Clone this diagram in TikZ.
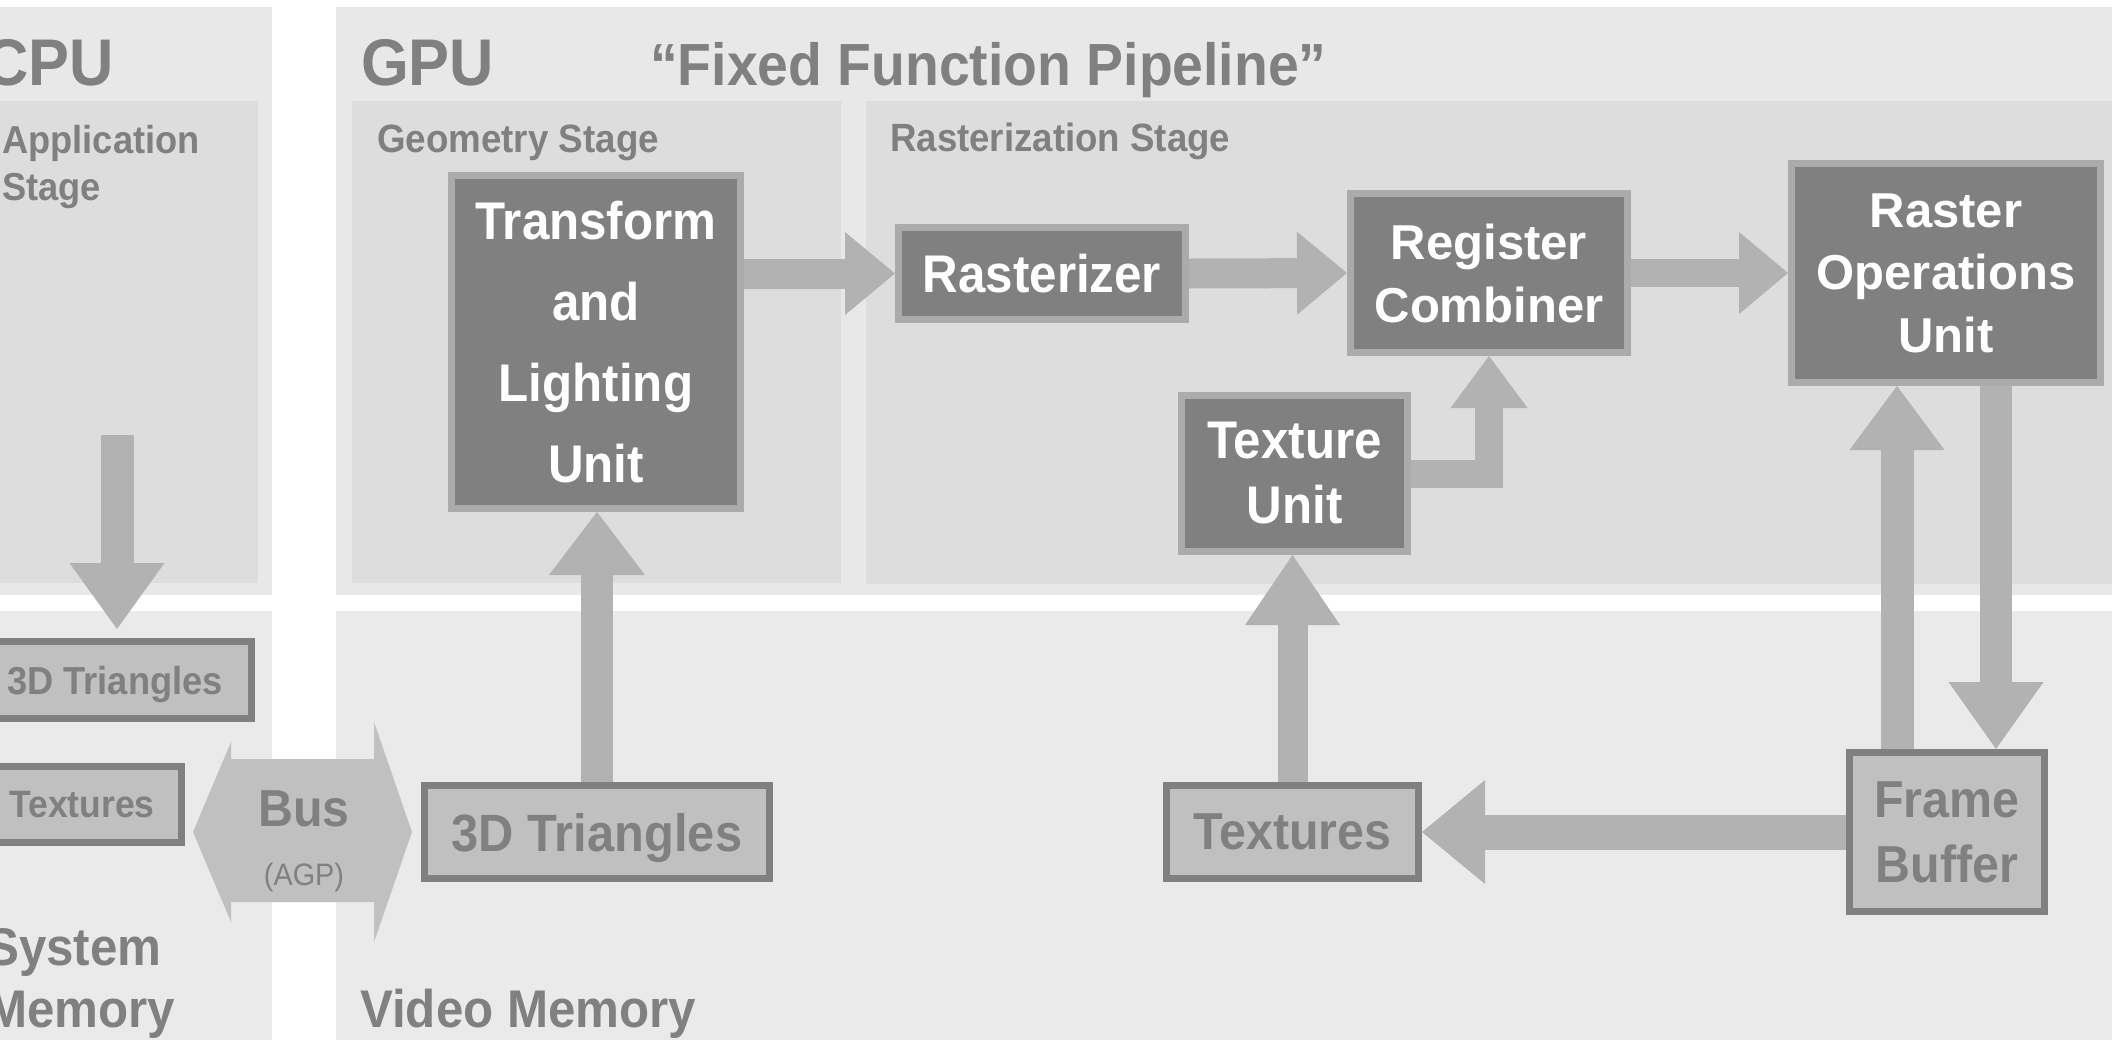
\documentclass[tikz,border=0pt]{standalone}
\usepackage{fontspec}
\setmainfont{Liberation Sans}
\newfontfamily\nf[FakeStretch=0.93]{Liberation Sans}
\usetikzlibrary{arrows.meta}
\definecolor{outerp}{HTML}{E8E8E8}
\definecolor{innerp}{HTML}{DDDDDD}
\definecolor{lowerp}{HTML}{EAEAEA}
\definecolor{darkbox}{HTML}{808080}
\definecolor{darkborder}{HTML}{ABABAB}
\definecolor{membox}{HTML}{C0C0C0}
\definecolor{arrowc}{HTML}{B2B2B2}
\definecolor{labelc}{HTML}{808080}
\begin{document}
\begin{tikzpicture}[x=1pt,y=-1pt,
  unit/.style={draw=darkborder, fill=darkbox, line width=7pt, text=white, align=center, inner sep=0pt},
  mem/.style={draw=labelc, fill=membox, line width=7pt, text=labelc, align=center, inner sep=0pt},
  lbl/.style={text=labelc, anchor=base west, inner sep=0pt},
  arr/.style n args={3}{draw=arrowc, line width=#1pt, -{Triangle[length=#2pt, width=#3pt, line width=0pt 0 0]}}
]
\useasboundingbox (0,0) rectangle (2112,1039);
% panels
\fill[outerp] (-2,7) rectangle (272,595);
\fill[innerp] (-2,101) rectangle (258,583);
\fill[outerp] (336,7) rectangle (2114,595);
\fill[innerp] (352,101) rectangle (841,583);
\fill[innerp] (866,101) rectangle (2114,584);
\fill[lowerp] (-2,611) rectangle (272,1041);
\fill[lowerp] (336,611) rectangle (2114,1041);
% bus
\fill[membox] (193,832) -- (231,742) -- (231,759) -- (374,759) -- (374,722) -- (412,832)
  -- (374,942) -- (374,902) -- (231,902) -- (231,922) -- cycle;
\node[text=labelc, anchor=base, inner sep=0pt, font=\nf\bfseries\fontsize{52}{52}\selectfont] (bus) at (304,826) {Bus};
\node[text=labelc, anchor=base, inner sep=0pt, font=\nf\fontsize{31}{31}\selectfont] (agp) at (304,885) {(AGP)};
% labels
\node[lbl, font=\nf\bfseries\fontsize{66}{66}\selectfont] (cpu) at (-16,85) {CPU};
\node[lbl, font=\nf\bfseries\fontsize{66}{66}\selectfont] (gpu) at (361,85) {GPU};
\node[lbl, font=\nf\bfseries\fontsize{59.5}{60}\selectfont] (ffp) at (650,85) {“Fixed Function Pipeline”};
\node[lbl, font=\nf\bfseries\fontsize{39}{39}\selectfont] (app1) at (2,153) {Application};
\node[lbl, font=\nf\bfseries\fontsize{39}{39}\selectfont] (app2) at (2,200) {Stage};
\node[lbl, font=\nf\bfseries\fontsize{39.5}{40}\selectfont] (geo) at (377,152) {Geometry Stage};
\node[lbl, font=\nf\bfseries\fontsize{39.4}{40}\selectfont] (ras) at (890,151) {Rasterization Stage};
\node[lbl, font=\nf\bfseries\fontsize{53}{53}\selectfont] (sys1) at (-14,965) {System};
\node[lbl, font=\nf\bfseries\fontsize{53}{53}\selectfont] (sys2) at (-14,1027) {Memory};
\node[lbl, font=\nf\bfseries\fontsize{53}{53}\selectfont] (vid) at (360,1027) {Video Memory};
% units
\node[unit, minimum width=289pt, minimum height=333pt, font=\nf\bfseries\fontsize{53}{80.7}\selectfont] (tl) at (596,342) {Transform\\and\\Lighting\\Unit};
\node[unit, minimum width=287pt, minimum height=92pt, text depth=0pt, font=\nf\bfseries\fontsize{53}{53}\selectfont] (rast) at (1042,273.5) {Rasterizer};
\node[unit, minimum width=277pt, minimum height=159pt, font=\bfseries\fontsize{49}{63}\selectfont] (reg) at (1489,273) {Register\\Combiner};
\node[unit, minimum width=309pt, minimum height=219pt, font=\bfseries\fontsize{49}{62.5}\selectfont] (rop) at (1946,273) {Raster\\Operations\\Unit};
\node[unit, minimum width=226pt, minimum height=156pt, font=\nf\bfseries\fontsize{53}{65}\selectfont] (tu) at (1294.5,473.5) {Texture\\Unit};
% memory boxes
\node[mem, minimum width=345pt, minimum height=93pt, text depth=0pt, font=\nf\bfseries\fontsize{52.5}{52.5}\selectfont] (tri) at (597,832) {3D Triangles};
\node[mem, minimum width=252pt, minimum height=93pt, text depth=0pt, font=\nf\bfseries\fontsize{52}{52}\selectfont] (texg) at (1292.5,832) {Textures};
\node[mem, minimum width=195pt, minimum height=159pt, font=\nf\bfseries\fontsize{52}{65}\selectfont] (fb) at (1947,832) {Frame\\Buffer};
\node[mem, minimum width=273pt, minimum height=77pt, text depth=0pt, font=\nf\bfseries\fontsize{39}{39}\selectfont] (tri3) at (115,680) {3D Triangles};
\node[mem, minimum width=199pt, minimum height=76pt, text depth=0pt, font=\nf\bfseries\fontsize{38.2}{38.2}\selectfont] (texc) at (82,804.5) {Textures};
% connectors
\draw[arr={30}{50}{83}] (tl.east |- rast.west) -- (rast.west);
\draw[arr={30}{50}{83}] (rast.east) -- (reg.west);
\draw[arr={28}{49}{82}] (reg.east) -- (rop.west);
\draw[arr={28}{52}{77}] (tu.east) -| (reg.south);
\draw[arr={32}{63}{96}] (tri.north) -- (tri.north |- tl.south);
\draw[arr={30}{70}{95}] (texg.north) -- (texg.north |- tu.south);
\draw[arr={33}{64}{95}] ([xshift=-50pt]fb.north) -- ([xshift=-50pt]fb.north |- rop.south);
\draw[arr={32}{67}{95}] ([xshift=49pt]fb.north |- rop.south) -- ([xshift=49pt]fb.north);
\draw[arr={35}{63}{104}] (fb.west) -- (texg.east);
\coordinate (cpuin) at (117,435);
\draw[arr={33}{66}{95}, shorten >=9pt] (cpuin) -- (cpuin |- tri3.north);
\end{tikzpicture}
\end{document}
